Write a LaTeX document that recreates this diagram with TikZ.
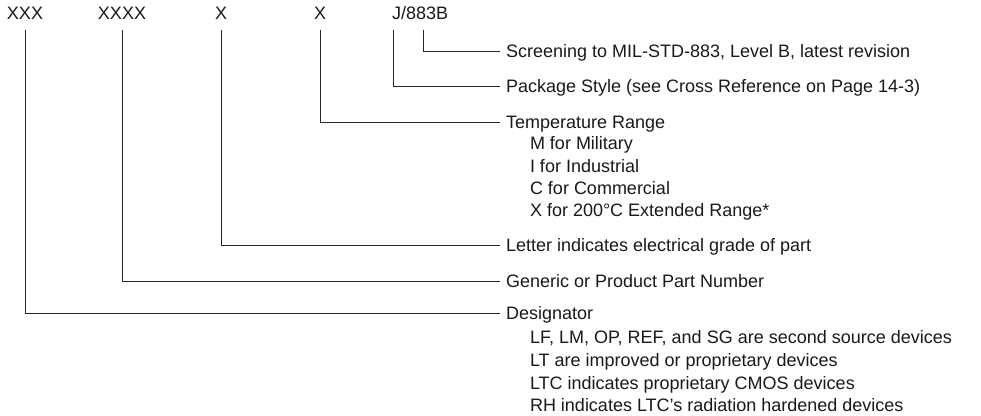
\documentclass[tikz,border=0pt]{standalone}
\usepackage{fontspec}
\setmainfont{Liberation Sans}
\begin{document}
\begin{tikzpicture}[x=1pt,y=-1pt,
  every node/.style={font=\fontsize{18}{22}\selectfont, text=black!90, inner sep=0pt, outer sep=0pt},
  code/.style={anchor=base},
  desc/.style={anchor=west, text height=12.9pt, text depth=0pt},
  conn/.style={draw=black!85, line width=0.9pt}
]
\useasboundingbox (0,0) rectangle (981,415);
% top code labels
\node[code] (c1) at (25,19.5) {XXX};
\node[code] (c2) at (122,19.5) {XXXX};
\node[code] (c3) at (221,19.5) {X};
\node[code] (c4) at (320,19.5) {X};
\node[code, anchor=base west] (c5) at (392,19.5) {J/883B};
% descriptions
\node[desc] (d1) at (506,51) {Screening to MIL-STD-883, Level B, latest revision};
\node[desc] (d2) at (506,86) {Package Style (see Cross Reference on Page 14-3)};
\node[desc] (d3) at (506,122) {Temperature Range};
\node[desc] (d3a) at (530,143.5) {M for Military};
\node[desc] (d3b) at (530,166) {I for Industrial};
\node[desc] (d3c) at (530,188) {C for Commercial};
\node[desc] (d3d) at (530,210) {X for 200°C Extended Range*};
\node[desc] (d4) at (506,245) {Letter indicates electrical grade of part};
\node[desc] (d5) at (506,281) {Generic or Product Part Number};
\node[desc] (d6) at (506,313) {Designator};
\node[desc] (d6a) at (530,337) {LF, LM, OP, REF, and SG are second source devices};
\node[desc] (d6b) at (530,360) {LT are improved or proprietary devices};
\node[desc] (d6c) at (530,383) {LTC indicates proprietary CMOS devices};
\node[desc] (d6d) at (530,405) {RH indicates LTC’s radiation hardened devices};
% connectors
\draw[conn] ([xshift=31pt,yshift=-10.5pt]c5.base west) |- ([xshift=-6pt]d1.west);
\draw[conn] ([xshift=1pt,yshift=-10.5pt]c5.base west) |- ([xshift=-6pt]d2.west);
\draw[conn] ([yshift=-10.5pt]c4.base) |- ([xshift=-6pt]d3.west);
\draw[conn] ([yshift=-10.5pt]c3.base) |- ([xshift=-6pt]d4.west);
\draw[conn] ([yshift=-10.5pt]c2.base) |- ([xshift=-6pt]d5.west);
\draw[conn] ([yshift=-10.5pt]c1.base) |- ([xshift=-6pt]d6.west);
\end{tikzpicture}
\end{document}
